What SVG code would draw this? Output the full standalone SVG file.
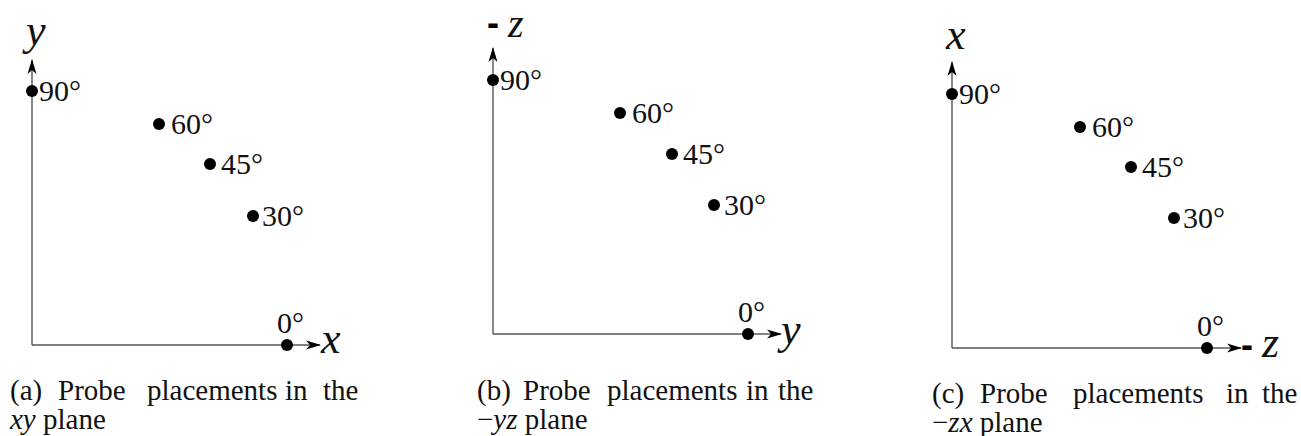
<svg xmlns="http://www.w3.org/2000/svg" width="1301" height="436" viewBox="0 0 1301 436">
<style>
.ax{stroke:#555;stroke-width:1.4;fill:none}
.dot{fill:#000}
text{font-family:'Liberation Serif','Times New Roman','DejaVu Serif',serif;fill:#111}
.deg{font-size:30px}
.lab{font-style:italic;font-size:44px}
.dash{font-family:'Liberation Sans',sans-serif;font-weight:bold;font-size:36px;fill:#000}
.cap{font-size:29px}
.it{font-style:italic}
</style>
<defs>
<marker id="arr" markerUnits="userSpaceOnUse" markerWidth="16" markerHeight="10" refX="14" refY="5" orient="auto" viewBox="0 0 16 10">
<path d="M0,0.5 L15,5 L0,9.5 L4,5 z" fill="#000"/>
</marker>
</defs>

<!-- Panel a -->
<g id="panel-a">
<g id="a-connectors">
<line class="ax" x1="32" y1="345" x2="32" y2="60" marker-end="url(#arr)"/>
<line class="ax" x1="32" y1="345" x2="320" y2="345" marker-end="url(#arr)"/>
</g>
<text class="lab" x="26" y="45">y</text>
<text class="lab" x="321" y="353">x</text>
<g id="a-p90"><circle class="dot" cx="32" cy="91" r="6"/><text class="deg" x="39" y="101">90°</text></g>
<g id="a-p60"><circle class="dot" cx="159" cy="124" r="6"/><text class="deg" x="171" y="134">60°</text></g>
<g id="a-p45"><circle class="dot" cx="210" cy="164" r="6"/><text class="deg" x="221" y="174">45°</text></g>
<g id="a-p30"><circle class="dot" cx="253" cy="216" r="6"/><text class="deg" x="262" y="226">30°</text></g>
<g id="a-p0"><circle class="dot" cx="287" cy="345" r="6"/><text class="deg" x="277" y="333">0°</text></g>
<g id="a-caption">
<text class="cap" x="10" y="400">(a)</text>
<text class="cap" x="58" y="400">Probe</text>
<text class="cap" x="147" y="400">placements</text>
<text class="cap" x="285" y="400">in</text>
<text class="cap" x="323" y="400">the</text>
<text class="cap" x="10" y="429"><tspan class="it">xy</tspan> plane</text>
</g>
</g>

<!-- Panel b -->
<g id="panel-b">
<g id="b-connectors">
<line class="ax" x1="493" y1="334" x2="493" y2="48" marker-end="url(#arr)"/>
<line class="ax" x1="493" y1="334" x2="781" y2="334" marker-end="url(#arr)"/>
</g>
<text class="dash" x="487" y="35">-</text>
<text class="lab" x="508" y="37" style="font-size:40px">z</text>
<text class="lab" x="781" y="344">y</text>
<g id="b-p90"><circle class="dot" cx="493" cy="80" r="6"/><text class="deg" x="500" y="90">90°</text></g>
<g id="b-p60"><circle class="dot" cx="620" cy="113" r="6"/><text class="deg" x="632" y="123">60°</text></g>
<g id="b-p45"><circle class="dot" cx="672" cy="154" r="6"/><text class="deg" x="683" y="164">45°</text></g>
<g id="b-p30"><circle class="dot" cx="714" cy="205" r="6"/><text class="deg" x="724" y="215">30°</text></g>
<g id="b-p0"><circle class="dot" cx="748" cy="334" r="6"/><text class="deg" x="738" y="322">0°</text></g>
<g id="b-caption">
<text class="cap" x="477" y="400">(b)</text>
<text class="cap" x="523" y="400">Probe</text>
<text class="cap" x="607" y="400">placements</text>
<text class="cap" x="746" y="400">in</text>
<text class="cap" x="778" y="400">the</text>
<text class="cap" x="477" y="429">−<tspan class="it">yz</tspan> plane</text>
</g>
</g>

<!-- Panel c -->
<g id="panel-c">
<g id="c-connectors">
<line class="ax" x1="952" y1="348" x2="952" y2="62" marker-end="url(#arr)"/>
<line class="ax" x1="952" y1="348" x2="1241" y2="348" marker-end="url(#arr)"/>
</g>
<text class="lab" x="946" y="49">x</text>
<text class="dash" x="1241" y="357">-</text>
<text class="lab" x="1262" y="357">z</text>
<g id="c-p90"><circle class="dot" cx="952" cy="94" r="6"/><text class="deg" x="959" y="104">90°</text></g>
<g id="c-p60"><circle class="dot" cx="1080" cy="127" r="6"/><text class="deg" x="1092" y="137">60°</text></g>
<g id="c-p45"><circle class="dot" cx="1131" cy="167" r="6"/><text class="deg" x="1142" y="177">45°</text></g>
<g id="c-p30"><circle class="dot" cx="1174" cy="218" r="6"/><text class="deg" x="1183" y="228">30°</text></g>
<g id="c-p0"><circle class="dot" cx="1207" cy="348" r="6"/><text class="deg" x="1197" y="336">0°</text></g>
<g id="c-caption">
<text class="cap" x="932" y="403">(c)</text>
<text class="cap" x="980" y="403">Probe</text>
<text class="cap" x="1073" y="403">placements</text>
<text class="cap" x="1226" y="403">in</text>
<text class="cap" x="1262" y="403">the</text>
<text class="cap" x="932" y="432">−<tspan class="it">zx</tspan> plane</text>
</g>
</g>
</svg>
